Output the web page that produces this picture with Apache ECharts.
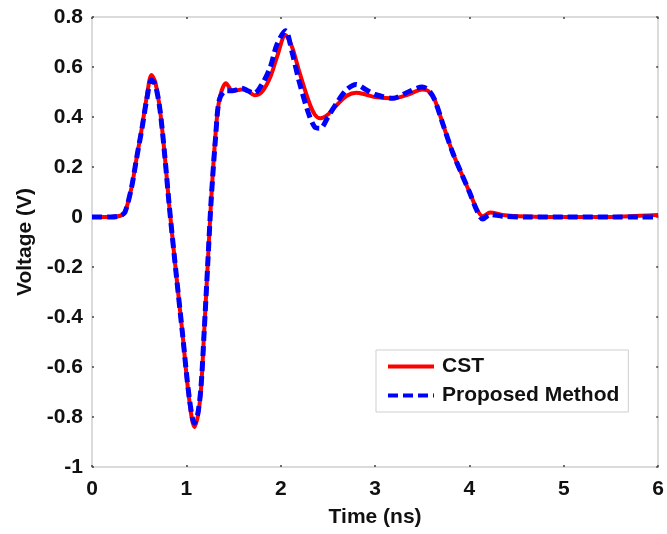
<!DOCTYPE html>
<html>
<head>
<meta charset="utf-8">
<script src="https://cdn.jsdelivr.net/npm/echarts@6/dist/echarts.min.js"></script>
<style>html,body{margin:0;padding:0;background:#fff;}#c{width:667px;height:534px;}</style>
</head>
<body>
<div id="c"></div>
<script>
var timeNs = [0, 0.2, 0.3, 0.35, 0.42, 0.47, 0.53, 0.58, 0.63, 0.67, 0.72, 0.77, 0.82, 0.89, 0.96, 1.03, 1.085, 1.12, 1.155, 1.19, 1.225, 1.26, 1.31, 1.35, 1.42, 1.49, 1.59, 1.65, 1.72, 1.8, 1.89, 1.96, 2.05, 2.12, 2.19, 2.29, 2.36, 2.42, 2.5, 2.6, 2.7, 2.8, 2.9, 3.0, 3.19, 3.35, 3.5, 3.56, 3.63, 3.72, 3.82, 3.92, 4.0, 4.08, 4.14, 4.22, 4.35, 4.6, 5, 5.5, 5.8, 6];
var cstV = [0, 0, 0.005, 0.02, 0.12, 0.23, 0.36, 0.48, 0.568, 0.54, 0.43, 0.25, 0.04, -0.22, -0.47, -0.73, -0.84, -0.8, -0.69, -0.45, -0.2, 0.05, 0.335, 0.47, 0.535, 0.505, 0.51, 0.505, 0.487, 0.50, 0.56, 0.64, 0.728, 0.68, 0.59, 0.47, 0.41, 0.395, 0.41, 0.45, 0.485, 0.497, 0.49, 0.48, 0.475, 0.49, 0.51, 0.505, 0.47, 0.37, 0.26, 0.17, 0.10, 0.03, 0.003, 0.018, 0.008, 0.002, 0, 0, 0.005, 0.008];
var propV = [0, 0, 0.005, 0.02, 0.12, 0.23, 0.355, 0.47, 0.548, 0.53, 0.43, 0.25, 0.04, -0.22, -0.47, -0.72, -0.825, -0.79, -0.68, -0.45, -0.2, 0.05, 0.32, 0.47, 0.505, 0.505, 0.515, 0.505, 0.495, 0.53, 0.60, 0.69, 0.745, 0.66, 0.55, 0.42, 0.36, 0.355, 0.40, 0.46, 0.51, 0.53, 0.51, 0.49, 0.475, 0.50, 0.52, 0.51, 0.47, 0.37, 0.26, 0.17, 0.10, 0.025, -0.008, 0.01, 0.003, 0, 0, 0, 0, 0];
var xTicks = [0, 1, 2, 3, 4, 5, 6];
var yTicks = [-1, -0.8, -0.6, -0.4, -0.2, 0, 0.2, 0.4, 0.6, 0.8];

function pairs(t, v) { return t.map(function (x, i) { return [x, v[i]]; }); }

var font = 'Liberation Sans, Arial, sans-serif';
var fs = 21;
var chart = echarts.init(document.getElementById('c'));
var tickStyle = { show: true, inside: true, length: 2, lineStyle: { color: '#444', width: 1.5 } };
var axisLineStyle = { show: true, onZero: false, lineStyle: { color: '#cfcfcf', width: 1.5 } };
chart.setOption({
  animation: false,
  backgroundColor: '#fff',
  grid: { left: 92, right: 5, top: 17, bottom: 67 },
  legend: {
    left: 376, top: 350,
    orient: 'vertical',
    backgroundColor: '#fff',
    borderColor: '#cfcfcf', borderWidth: 1,
    padding: [6, 9, 6, 10],
    itemGap: 8,
    itemWidth: 46, itemHeight: 14,
    itemStyle: { opacity: 0 },
    lineStyle: { width: 4 },
    textStyle: { fontFamily: font, fontWeight: 'bold', fontSize: fs, color: '#111', padding: [0, 0, 0, 3] },
    data: ['CST', 'Proposed Method']
  },
  xAxis: [{
    type: 'value', min: 0, max: 6, interval: 1,
    name: 'Time (ns)', nameLocation: 'middle', nameGap: 40,
    nameTextStyle: { fontFamily: font, fontWeight: 'bold', fontSize: fs, color: '#111' },
    axisLine: axisLineStyle, axisTick: tickStyle, splitLine: { show: false },
    axisLabel: { fontFamily: font, fontWeight: 'bold', fontSize: fs, color: '#111', margin: 12 }
  }, {
    type: 'value', min: 0, max: 6, interval: 1, position: 'top',
    axisLine: axisLineStyle, axisTick: tickStyle, splitLine: { show: false }, axisLabel: { show: false }
  }],
  yAxis: [{
    type: 'value', min: -1, max: 0.8, interval: 0.2,
    name: 'Voltage (V)', nameLocation: 'middle', nameGap: 56,
    nameTextStyle: { fontFamily: font, fontWeight: 'bold', fontSize: fs, color: '#111' },
    axisLine: axisLineStyle, axisTick: tickStyle, splitLine: { show: false },
    axisLabel: { fontFamily: font, fontWeight: 'bold', fontSize: fs, color: '#111', margin: 9,
      formatter: function (v) { return String(Math.round(v * 10) / 10); } }
  }, {
    type: 'value', min: -1, max: 0.8, interval: 0.2, position: 'right',
    axisLine: axisLineStyle, axisTick: tickStyle, splitLine: { show: false }, axisLabel: { show: false }
  }],
  series: [{
    name: 'CST', type: 'line', data: pairs(timeNs, cstV),
    smooth: 0.3, symbol: 'none', color: '#ff0000',
    lineStyle: { color: '#ff0000', width: 4 }
  }, {
    name: 'Proposed Method', type: 'line', data: pairs(timeNs, propV),
    smooth: 0.3, symbol: 'none', color: '#0000ff',
    lineStyle: { color: '#0000ff', width: 5, type: [10, 5] }
  }]
});
</script>
</body>
</html>
